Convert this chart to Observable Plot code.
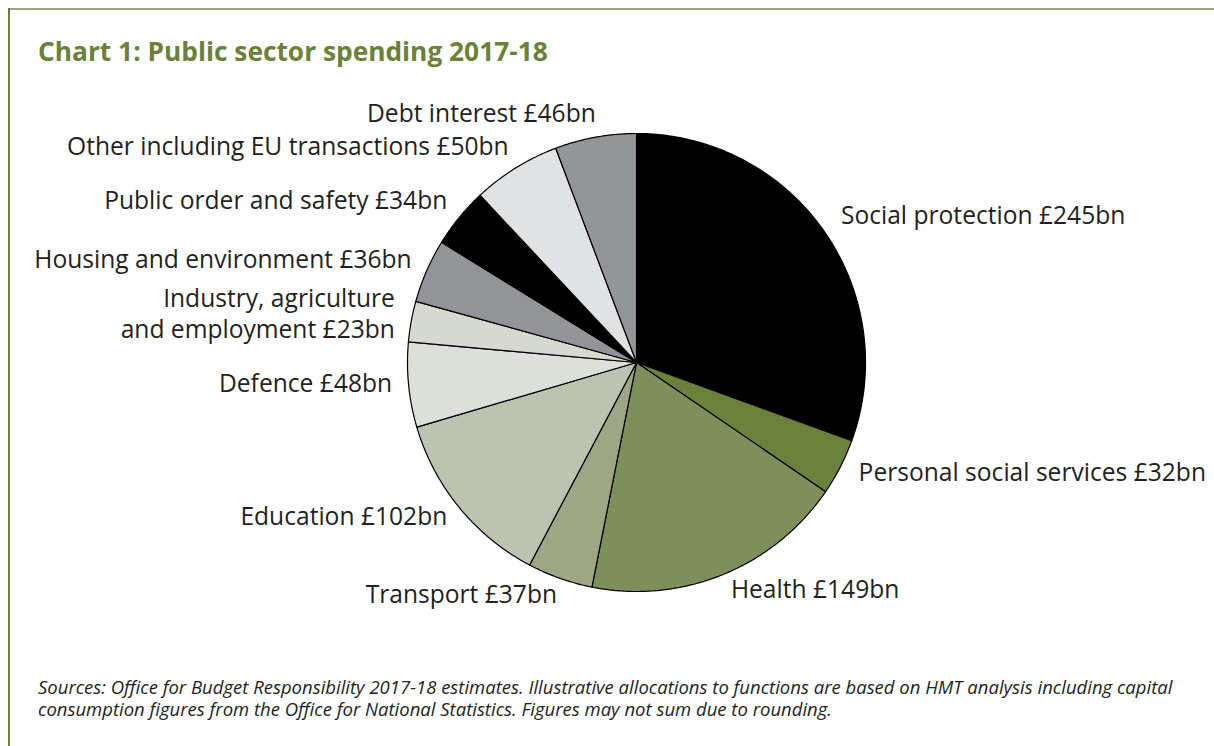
<!DOCTYPE html>
<html>
<head>
<meta charset="utf-8">
<script src="https://cdn.jsdelivr.net/npm/d3@7"></script>
<script src="https://cdn.jsdelivr.net/npm/@observablehq/plot@0.6"></script>
<style>
  body { margin: 0; background: #fff; }
  #page { position: relative; width: 1214px; height: 746px; overflow: hidden; background: #fff; font-family: "Open Sans", sans-serif; }
  #topline { position: absolute; left: 8px; top: 8px; right: 0; height: 2px; background: #9aaa7c; }
  #leftline { position: absolute; left: 8px; top: 8px; bottom: 0; width: 2px; background: #6b7d3f; }
  #title { position: absolute; left: 38px; top: 36px; font-size: 26.3px; line-height: 30px; font-weight: 700; color: #6b8139; white-space: nowrap; }
  #chart { position: absolute; left: 0; top: 90px; }
  #caption { position: absolute; left: 38px; top: 676px; font-size: 18.5px; line-height: 22px; font-style: italic; color: #231f20; white-space: nowrap; }
</style>
</head>
<body>
<div id="page">
  <div id="topline"></div>
  <div id="leftline"></div>
  <div id="title"></div>
  <div id="chart"></div>
  <div id="caption"></div>
</div>
<script>
// ---- Data (clockwise from 12 o'clock) ----
const categories = [
  "Social protection",
  "Personal social services",
  "Health",
  "Transport",
  "Education",
  "Defence",
  "Industry, agriculture\nand employment",
  "Housing and environment",
  "Public order and safety",
  "Other including EU transactions",
  "Debt interest"
];
const values = [245, 32, 149, 37, 102, 48, 23, 36, 34, 50, 46];
const colors = [
  "#000000", "#6b803a", "#7e8f5c", "#9da786", "#bcc3b1", "#dde0d8",
  "#d6d9cf", "#939498", "#000000", "#e1e2e4", "#949599"
];
const titleText = "Chart 1: Public sector spending 2017-18";
const captionLines = [
  "Sources: Office for Budget Responsibility 2017-18 estimates. Illustrative allocations to functions are based on HMT analysis including capital",
  "consumption figures from the Office for National Statistics. Figures may not sum due to rounding."
];

document.getElementById("title").textContent = titleText;
document.getElementById("caption").innerHTML = captionLines.join("<br>");

// ---- Build slices with d3.pie ----
const rows = categories.map((name, i) => ({name, value: values[i], label: `${name} £${values[i]}bn`}));
const arcs = d3.pie().sort(null).value(d => d.value).startAngle(0).endAngle(2 * Math.PI)(rows);

const poly = [];
for (const a of arcs) {
  const name = a.data.name;
  poly.push({name, x: 0, y: 0});
  const n = Math.max(2, Math.ceil((a.endAngle - a.startAngle) / (Math.PI / 360)));
  for (let k = 0; k <= n; ++k) {
    const t = a.startAngle + (a.endAngle - a.startAngle) * k / n;
    poly.push({name, x: Math.sin(t), y: Math.cos(t)});
  }
}

const labelR = 1.09;
const labels = arcs.map(a => {
  const m = (a.startAngle + a.endAngle) / 2;
  return {label: a.data.label, x: labelR * Math.sin(m), y: labelR * Math.cos(m), right: Math.sin(m) >= 0};
});

const chart = Plot.plot({
  width: 1214,
  height: 560,
  marginLeft: 407,
  marginRight: 349,
  marginTop: 43,
  marginBottom: 59,
  x: {domain: [-1, 1], axis: null},
  y: {domain: [-1, 1], axis: null},
  color: {domain: categories, range: colors},
  style: {fontFamily: "'Open Sans', sans-serif", background: "transparent"},
  marks: [
    Plot.line(poly, {x: "x", y: "y", z: "name", fill: "name", stroke: "#000", strokeWidth: 1.2, curve: "linear-closed", strokeLinejoin: "round"}),
    Plot.text(labels.filter(d => d.right), {x: "x", y: "y", text: "label", textAnchor: "start", dy: -5, fontSize: 24.6, fill: "#231f20", lineHeight: 1.25}),
    Plot.text(labels.filter(d => !d.right), {x: "x", y: "y", text: "label", textAnchor: "end", dx: 4, dy: -5, fontSize: 24.6, fill: "#231f20", lineHeight: 1.25})
  ]
});
document.getElementById("chart").appendChild(chart);
</script>
</body>
</html>
